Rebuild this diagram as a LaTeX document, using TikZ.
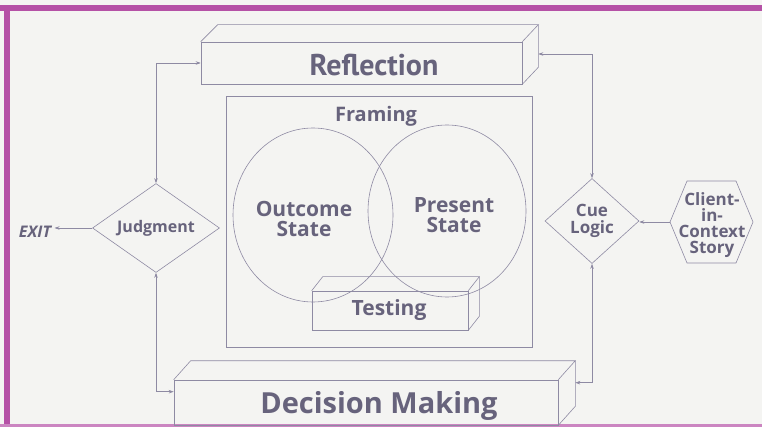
\documentclass[tikz,border=0pt]{standalone}
\usepackage{fontspec}
\setmainfont{Open Sans}
\newfontfamily\ptsans{PT Sans}
\usetikzlibrary{shapes.geometric,arrows.meta,calc}
\definecolor{ink}{HTML}{67637C}
\definecolor{ln}{HTML}{8E8AA3}
\definecolor{mag}{HTML}{B551A6}
\definecolor{paper}{HTML}{F4F4F2}
\begin{document}
\begin{tikzpicture}[x=1pt,y=-1pt,
  every node/.style={text=ink,font=\bfseries},
  face/.style={draw=ln,line width=0.6pt},
  conn/.style={draw=ln,line width=0.6pt,{Stealth[length=5pt,width=3.5pt]}-{Stealth[length=5pt,width=3.5pt]}},
  arr/.style={draw=ln,line width=0.6pt,-{Stealth[length=5pt,width=3.5pt]}},
  dia/.style={face,diamond,inner sep=0pt,aspect=1.4},
  mid/.style={font=\bfseries\fontsize{21}{20}\selectfont},
  sml/.style={font=\bfseries\fontsize{16}{16}\selectfont},
  ]
\useasboundingbox (0,0) rectangle (762,427);
\clip (0,0) rectangle (762,427);
\fill[paper] (0,0) rectangle (762,427);
\fill[mag] (0,5) rectangle (762,11);
\fill[mag] (4,5) rectangle (10,427);
\fill[mag!70] (0,424) rectangle (762,427);

% Reflection box
\node[face,minimum width=321pt,minimum height=42pt,inner sep=0pt] (refl) at (361.5,63) {};
\draw[face] (refl.north west) -- ++(17,-17) -- ($(refl.north east)+(16,-17)$) -- (refl.north east);
\draw[face] ($(refl.north east)+(16,-17)$) -- ($(refl.south east)+(16,-17)$) -- (refl.south east);
\node[font=\ptsans\bfseries\fontsize{30}{30}\selectfont,anchor=base] (reflT) at (374,76) {Reflection};

% Framing box
\node[face,minimum width=306pt,minimum height=251pt,inner sep=0pt] (fram) at (379,221.5) {};
\node[font=\bfseries\fontsize{20}{20}\selectfont,anchor=base] (framT) at (376,122) {Framing};

% ellipses
\node[face,ellipse,minimum width=160pt,minimum height=174pt,inner sep=0pt] (outc) at (313,215) {};
\node[face,ellipse,minimum width=158pt,minimum height=172pt,inner sep=0pt] (pres) at (447,211) {};
\node[mid,align=center,anchor=base] (outcT) at (304,237) {Outcome\\State};
\node[mid,align=center,anchor=base] (presT) at (454,233) {Present\\State};

% Testing box
\node[face,minimum width=156pt,minimum height=39pt,inner sep=0pt] (test) at (390,310.5) {};
\draw[face] (test.north west) -- ++(11,-14) -- ($(test.north east)+(11,-14)$) -- (test.north east);
\draw[face] ($(test.north east)+(11,-14)$) -- ($(test.south east)+(11,-14)$) -- (test.south east);
\node[font=\bfseries\fontsize{21}{21}\selectfont,anchor=base] (testT) at (389,316) {Testing};

% Decision Making box
\node[face,minimum width=384pt,minimum height=45pt,inner sep=0pt] (dec) at (366,402.5) {};
\draw[face] (dec.north west) -- ++(17,-19) -- ($(dec.north east)+(17,-19)$) -- (dec.north east);
\draw[face] ($(dec.north east)+(17,-19)$) -- ($(dec.south east)+(17,-19)$) -- (dec.south east);
\node[font=\bfseries\fontsize{29}{30}\selectfont,anchor=base] (decT) at (379,413) {Decision Making};

% Judgment
\node[dia,minimum width=127pt,minimum height=89pt,sml] (judg) at (156,228) {Judgment};
\node[font=\bfseries\itshape\fontsize{16}{16}\selectfont,anchor=base] (exit) at (35,238) {EXIT};
\draw[arr] (judg.west) -- (exit.east |- judg.west);

% Cue Logic
\node[dia,minimum width=94pt,minimum height=85pt,font=\bfseries\fontsize{17}{17}\selectfont,align=center] (cue) at (592,221) {Cue\\Logic};

% Client-in-Context Story hexagon
\node[font=\bfseries\fontsize{17}{16}\selectfont,align=center] (client) at (712,225) {Client-\\in-\\Context\\Story};
\coordinate (clientW) at (670,222);
\draw[face] (clientW) -- ++(17,-41) -- ++(49,0) -- ++(17,41) -- ++(-17,41) -- ++(-49,0) -- cycle;
\draw[arr] (clientW) -- (cue.east |- clientW);

% connectors
\coordinate (decL) at ($(dec.north west)+(0,12)$);
\coordinate (decR) at ($(dec.north east)+(17,3)$);
\coordinate (reflR) at ($(refl.east)+(16,-9)$);
\draw[conn] (judg.north) |- (refl.west);
\draw[conn] (judg.south) |- (decL);
\draw[conn] (cue.north) |- (reflR);
\draw[conn] (cue.south) |- (decR);
\end{tikzpicture}
\end{document}
